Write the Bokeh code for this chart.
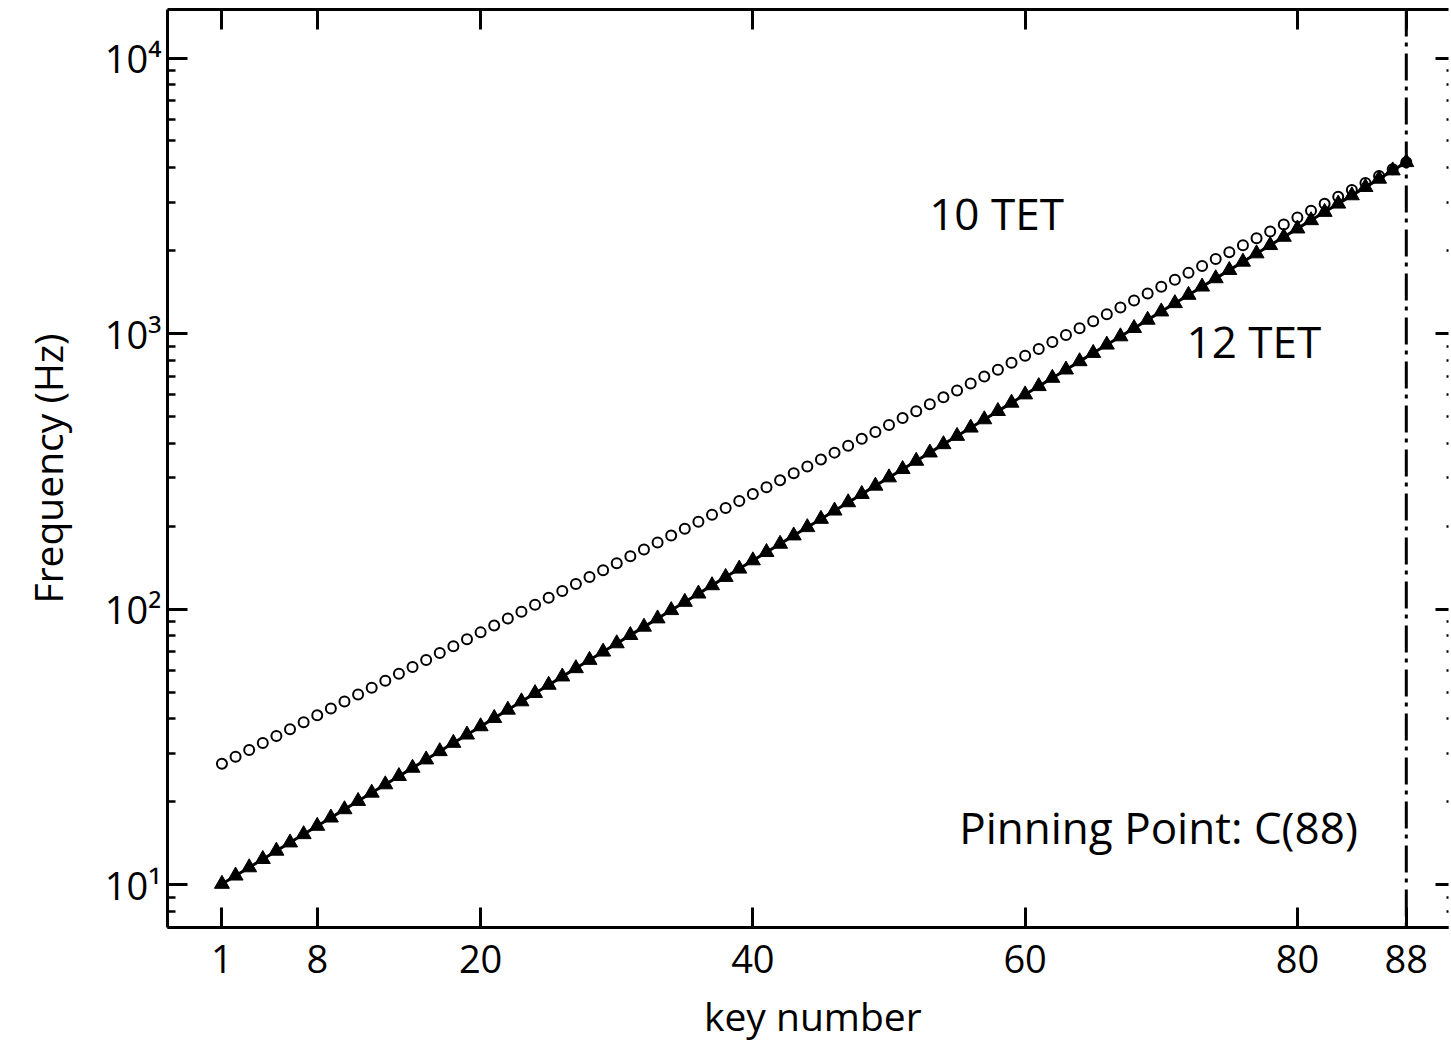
from bokeh.plotting import figure
from bokeh.models import (FixedTicker, LinearAxis, LogAxis, Span, Label, Range1d,
                          CustomLabelingPolicy)
from bokeh.embed import file_html
from bokeh.resources import INLINE

# ---- data ----
keys = list(range(1, 89))

tet12 = [
    27.50, 29.14, 30.87, 32.70, 34.65, 36.71, 38.89, 41.20, 43.65, 46.25, 49.00, 51.91,
    55.00, 58.27, 61.74, 65.41, 69.30, 73.42, 77.78, 82.41, 87.31, 92.50, 98.00, 103.83,
    110.00, 116.54, 123.47, 130.81, 138.59, 146.83, 155.56, 164.81, 174.61, 185.00, 196.00, 207.65,
    220.00, 233.08, 246.94, 261.63, 277.18, 293.66, 311.13, 329.63, 349.23, 369.99, 392.00, 415.30,
    440.00, 466.16, 493.88, 523.25, 554.37, 587.33, 622.25, 659.26, 698.46, 739.99, 783.99, 830.61,
    880.00, 932.33, 987.77, 1046.50, 1108.73, 1174.66, 1244.51, 1318.51, 1396.91, 1479.98, 1567.98, 1661.22,
    1760.00, 1864.66, 1975.53, 2093.00, 2217.46, 2349.32, 2489.02, 2637.02, 2793.83, 2959.96, 3135.96, 3322.44,
    3520.00, 3729.31, 3951.07, 4186.01,
]

tet10 = [
    10.07, 10.79, 11.56, 12.39, 13.28, 14.23, 15.25,
    16.35, 17.52, 18.78, 20.13, 21.57, 23.12, 24.78, 26.56, 28.47, 30.51,
    32.70, 35.05, 37.56, 40.26, 43.15, 46.25, 49.57, 53.12, 56.94, 61.02,
    65.41, 70.10, 75.13, 80.52, 86.30, 92.50, 99.13, 106.24, 113.87, 122.04,
    130.81, 140.20, 150.26, 161.04, 172.60, 185.00, 198.27, 212.50, 227.75, 244.09,
    261.63, 280.41, 300.53, 322.09, 345.21, 369.99, 396.54, 425.00, 455.51, 488.18,
    523.25, 560.81, 601.05, 644.19, 690.42, 739.99, 793.09, 850.01, 911.01, 976.37,
    1046.5, 1121.6, 1202.1, 1288.4, 1380.8, 1480.0, 1586.2, 1700.0, 1822.0, 1952.7,
    2093.0, 2243.2, 2404.2, 2576.8, 2761.7, 2960.0, 3172.4, 3400.0, 3644.0, 3905.5,
    4186.0,
]

x_ticks = [1, 8, 20, 40, 60, 80, 88]
y_ticks = [10, 100, 1000, 10000]
y_tick_labels = ["10¹", "10²", "10³", "10⁴"]
y_minor = [m * 10 ** k for k in range(0, 5) for m in range(2, 10)]
pin_key = 88

FONT = "Open Sans"
FS_TICK = "38px"
FS_AXIS = "39px"
FS_NOTE = "44px"

p = figure(width=1451, height=1043, y_axis_type="log",
           x_range=Range1d(-3, 91.1), y_range=Range1d(7, 15000),
           output_backend="svg", toolbar_location=None,
           min_border_left=167, min_border_right=0, min_border_top=9,
           min_border_bottom=116)
p.outline_line_color = None
p.grid.visible = False
p.background_fill_color = "white"
p.border_fill_color = "white"

xt = FixedTicker(ticks=x_ticks, minor_ticks=[])
yt = FixedTicker(ticks=y_ticks, minor_ticks=y_minor)

def style(ax, labels=True):
    ax.axis_line_width = 3
    ax.axis_line_color = "black"
    ax.major_tick_in = 20
    ax.major_tick_out = 0
    ax.major_tick_line_width = 3
    ax.minor_tick_in = 8
    ax.minor_tick_out = 0
    ax.minor_tick_line_width = 2.5
    ax.major_label_text_font = FONT
    ax.major_label_text_color = "black"
    ax.axis_label_text_font = FONT
    ax.axis_label_text_font_size = FS_AXIS
    ax.axis_label_text_font_style = "normal"
    ax.axis_label_text_color = "black"
    if labels:
        ax.major_label_text_font_size = FS_TICK
    else:
        ax.major_label_text_font_size = "2px"
        ax.major_label_standoff = -3
        ax.major_label_policy = CustomLabelingPolicy(code="return new Set()")

xa = p.xaxis[0]
xa.ticker = xt
style(xa)
xa.major_label_standoff = 17

ya = p.yaxis[0]
ya.ticker = yt
style(ya)
ya.major_label_overrides = {v: t for v, t in zip(y_ticks, y_tick_labels)}
ya.major_label_standoff = 6
ya.axis_label = "Frequency (Hz)"
ya.axis_label_standoff = 28

top = LinearAxis(ticker=xt)
style(top, labels=False)
p.add_layout(top, "above")

right = LogAxis(ticker=yt)
style(right, labels=False)
right.axis_line_color = None
right.major_tick_in = 13
right.minor_tick_in = 2
p.add_layout(right, "right")

# x-axis title, in the panel below the frame
p.add_layout(Label(x=44.4, y=3.36, text="key number",
                   text_font=FONT, text_font_size=FS_AXIS, text_align="center",
                   text_baseline="middle", text_color="black"), "below")

# pinning line
p.add_layout(Span(location=pin_key, dimension="height", line_color="black",
                  line_width=3, line_dash="27 6 4 7"))

# 10 TET series (triangles with line)
p.line(keys, tet10, line_color="black", line_width=3)
p.scatter(keys, tet10, marker="triangle", size=15, fill_color="black",
          line_color="black", line_width=1)

# 12 TET series (open circles)
p.scatter(keys, tet12, marker="circle", size=10, fill_color=None,
          line_color="black", line_width=2)

for txt, x, y in [("10 TET", 57.9, 2740), ("12 TET", 76.8, 938),
                  ("Pinning Point: C(88)", 69.8, 16.2)]:
    p.add_layout(Label(x=x, y=y, text=txt, text_font=FONT, text_font_size=FS_NOTE,
                       text_align="center", text_baseline="middle",
                       text_color="black"))

open("out.html", "w").write(file_html(p, INLINE))
